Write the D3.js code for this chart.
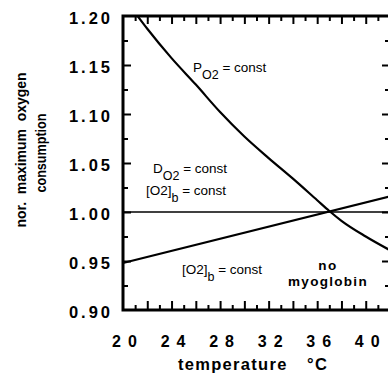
<!DOCTYPE html>
<html>
<head>
<meta charset="utf-8">
<script src="https://cdn.jsdelivr.net/npm/d3@7"></script>
<style>
  body { margin: 0; background: #fff; }
  svg { display: block; font-family: "Liberation Sans", Arial, Helvetica, sans-serif; }
</style>
</head>
<body>
<script>
// datos
const xTickLabels = [20, 24, 28, 32, 36, 40];
const yTickLabels = [0.90, 0.95, 1.00, 1.05, 1.10, 1.15, 1.20];

// P_O2 = const (curva decreciente)
const tempP = [21.2, 22, 24, 26, 28, 30, 32, 34, 36, 37, 38, 40, 42];
const valP  = [1.200, 1.187, 1.157, 1.130, 1.102, 1.077, 1.055, 1.034, 1.012, 1.001, 0.991, 0.975, 0.961];

// [O2]b = const (recta creciente)
const tempB = [20, 42];
const valB  = [0.948, 1.016];

// D_O2 = const, [O2]b = const (horizontal)
const tempD = [20, 42];
const valD  = [1.00, 1.00];

const W = 388, H = 379;
const mLeft = 123, mRight = 390, mTop = 16, mBottom = 310;

const x = d3.scaleLinear().domain([20, 42]).range([mLeft, mRight]);
const y = d3.scaleLinear().domain([0.90, 1.20]).range([mBottom, mTop]);

const svg = d3.select("body").append("svg")
  .attr("width", W).attr("height", H);

// Ticks menores y mayores (hacia dentro)
const majorX = d3.range(22, 42, 2), minorX = d3.range(21, 42, 2);
const majorY = [0.95, 1.00, 1.05, 1.10, 1.15], minorY = [0.925, 0.975, 1.025, 1.075, 1.125, 1.175];

function tickAxis(axis, trans) {
  const g = svg.append("g").attr("transform", trans).call(axis);
  g.select(".domain").remove();
  g.selectAll("text").remove();
  g.selectAll("line").attr("stroke", "#000").attr("stroke-width", 2);
  return g;
}
tickAxis(d3.axisBottom(x).tickValues(majorX).tickSize(-9), `translate(0,${mBottom})`);
tickAxis(d3.axisBottom(x).tickValues(minorX).tickSize(-5), `translate(0,${mBottom})`);
tickAxis(d3.axisTop(x).tickValues(majorX).tickSize(-8), `translate(0,${mTop})`);
tickAxis(d3.axisTop(x).tickValues(minorX).tickSize(-5), `translate(0,${mTop})`);
tickAxis(d3.axisLeft(y).tickValues(majorY).tickSize(-8), `translate(${mLeft},0)`);
tickAxis(d3.axisLeft(y).tickValues(minorY).tickSize(-5), `translate(${mLeft},0)`);
tickAxis(d3.axisRight(y).tickValues(majorY).tickSize(-8), `translate(${mRight},0)`);
tickAxis(d3.axisRight(y).tickValues(minorY).tickSize(-5), `translate(${mRight},0)`);

// Marco
svg.append("rect")
  .attr("x", mLeft).attr("y", mTop)
  .attr("width", mRight - mLeft).attr("height", mBottom - mTop)
  .attr("fill", "none").attr("stroke", "#000").attr("stroke-width", 3);

// Etiquetas eje X
const xLab = svg.append("g").attr("transform", `translate(0,${mBottom})`)
  .call(d3.axisBottom(x).tickValues(xTickLabels).tickSize(0).tickPadding(26).tickFormat(d3.format("d")));
xLab.select(".domain").remove();
xLab.selectAll("text")
  .attr("font-size", 16).attr("font-weight", "bold").attr("fill", "#000")
  .attr("font-family", "'Liberation Sans', Arial, sans-serif")
  .style("letter-spacing", "7px").attr("dx", 4.5);

// Etiquetas eje Y
const yLab = svg.append("g").attr("transform", `translate(${mLeft},0)`)
  .call(d3.axisLeft(y).tickValues(yTickLabels).tickSize(0).tickPadding(10).tickFormat(d3.format(".2f")));
yLab.select(".domain").remove();
yLab.selectAll("text")
  .attr("font-size", 16.5).attr("font-weight", "bold").attr("fill", "#000")
  .attr("font-family", "'Liberation Sans', Arial, sans-serif")
  .style("letter-spacing", "3px").attr("dy", "0.45em");

// Lineas
const line = d3.line().x(d => x(d[0])).y(d => y(d[1]));
svg.append("path").datum(d3.zip(tempD, valD))
  .attr("d", line).attr("fill", "none").attr("stroke", "#000").attr("stroke-width", 1.6);
svg.append("path").datum(d3.zip(tempB, valB))
  .attr("d", line).attr("fill", "none").attr("stroke", "#000").attr("stroke-width", 2.2);
svg.append("path").datum(d3.zip(tempP, valP))
  .attr("d", line.curve(d3.curveMonotoneX)).attr("fill", "none").attr("stroke", "#000").attr("stroke-width", 2.2);

// Anotaciones
function subLabel(px, py, main, sub, rest) {
  const t = svg.append("text").attr("x", px).attr("y", py)
    .attr("font-size", 13.5).attr("fill", "#000");
  t.append("tspan").text(main);
  t.append("tspan").attr("dy", 7).attr("font-size", 12.5).text(sub);
  t.append("tspan").attr("dy", -7).text(rest);
}
subLabel(193, 72, "P", "O2", " = const");
subLabel(153, 173, "D", "O2", " = const");
subLabel(146, 195, "[O2]", "b", " = const");
subLabel(182, 274, "[O2]", "b", " = const");

svg.append("text").attr("x", 328).attr("y", 270).attr("text-anchor", "middle")
  .attr("font-size", 13.5).attr("font-weight", "bold").style("letter-spacing", "1.5px").text("no");
svg.append("text").attr("x", 328).attr("y", 286).attr("text-anchor", "middle")
  .attr("font-size", 13.5).attr("font-weight", "bold").style("letter-spacing", "1.3px").text("myoglobin");

// Titulos de ejes
svg.append("text").attr("x", 178).attr("y", 370)
  .attr("font-size", 16.5).attr("font-weight", "bold").style("letter-spacing", "1.3px").text("temperature");
svg.append("text").attr("x", 307).attr("y", 370)
  .attr("font-size", 16.5).attr("font-weight", "bold").style("letter-spacing", "1.5px").text("°C");

svg.append("text").attr("transform", "translate(26,150) rotate(-90)")
  .attr("text-anchor", "middle").attr("font-size", 15).attr("font-weight", "bold")
  .attr("textLength", 155).attr("lengthAdjust", "spacingAndGlyphs")
  .style("white-space", "pre").text("nor.  maximum  oxygen");
svg.append("text").attr("transform", "translate(46,153) rotate(-90)")
  .attr("text-anchor", "middle").attr("font-size", 15).attr("font-weight", "bold")
  .attr("textLength", 79).attr("lengthAdjust", "spacingAndGlyphs")
  .text("consumption");
</script>
</body>
</html>
